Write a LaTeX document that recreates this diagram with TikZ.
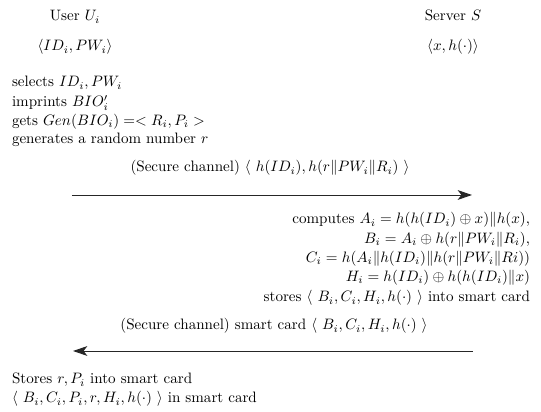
\documentclass[tikz,border=0pt]{standalone}
\usetikzlibrary{arrows.meta}
\begin{document}
\begin{tikzpicture}[x=0.0233cm,y=-0.0233cm,
  txt/.style={inner sep=0pt,outer sep=0pt,font=\normalsize},
  msg/.style={line width=0.65pt,draw=black!85,-{Stealth[length=9.5pt,width=6.5pt,inset=2.5pt]}}]
\useasboundingbox (0,0) rectangle (541,412);
% headers
\node[txt,anchor=base] (user) at (75,21) {User $U_i$};
\node[txt,anchor=base] (ukey) at (75,51) {$\langle ID_i, PW_i\rangle$};
\node[txt,anchor=base] (server) at (453,21) {Server $S$};
\node[txt,anchor=base] (skey) at (453,51) {$\langle x, h(\cdot)\rangle$};
% user steps
\node[txt,anchor=base west] (l1) at (12,87) {selects $ID_i, PW_i$};
\node[txt,anchor=base west] (l2) at (12,107) {imprints $BIO'_i$};
\node[txt,anchor=base west] (l3) at (12,125.5) {gets $Gen(BIO_i) =< R_i, P_i >$};
\node[txt,anchor=base west] (l4) at (12,144) {generates a random number $r$};
% message 1
\node[txt,anchor=base] (m1) at (270,172) {(Secure channel) $\langle\ h(ID_i), h(r\|PW_i\|R_i)\ \rangle$};
\coordinate (a1s) at (72,195);
\coordinate (a1e) at (472,195);
\draw[msg] (a1s) -- (a1e);
% server steps
\node[txt,anchor=base east] (s1) at (530,224) {computes $A_i = h(h(ID_i)\oplus x)\|h(x)$,};
\node[txt,anchor=base east] (s2) at (530,243.5) {$B_i = A_i \oplus h(r\|PW_i\|R_i)$,};
\node[txt,anchor=base east] (s3) at (530,262.5) {$C_i = h(A_i\|h(ID_i)\|h(r\|PW_i\|Ri))$};
\node[txt,anchor=base east] (s4) at (530,281.5) {$H_i = h(ID_i)\oplus h(h(ID_i)\|x)$};
\node[txt,anchor=base east] (s5) at (530,302) {stores $\langle\ B_i, C_i, H_i, h(\cdot)\ \rangle$ into smart card};
% message 2
\node[txt,anchor=base] (m2) at (274,330) {(Secure channel) smart card $\langle\ B_i, C_i, H_i, h(\cdot)\ \rangle$};
\coordinate (a2s) at (473,351);
\coordinate (a2e) at (73,351);
\draw[msg] (a2s) -- (a2e);
% user final
\node[txt,anchor=base west] (b1) at (12,384) {Stores $r, P_i$ into smart card};
\node[txt,anchor=base west] (b2) at (12,403) {$\langle\ B_i, C_i, P_i, r, H_i, h(\cdot)\ \rangle$ in smart card};
\end{tikzpicture}
\end{document}
